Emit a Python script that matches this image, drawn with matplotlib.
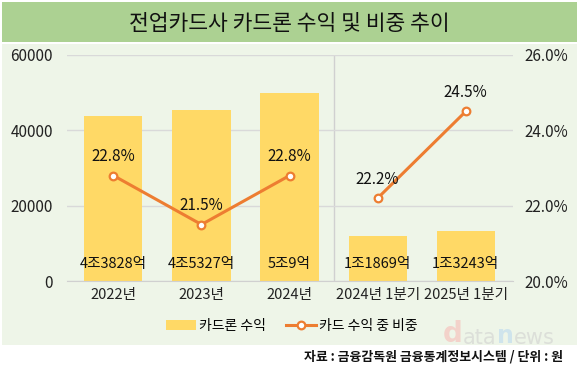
import matplotlib
matplotlib.use("Agg")
import matplotlib.pyplot as plt
from matplotlib.patches import Rectangle
from matplotlib.text import Annotation

plt.rcParams['font.family'] = ['Noto Sans CJK KR', 'DejaVu Sans']

categories = ["2022년", "2023년", "2024년", "2024년 1분기", "2025년 1분기"]
revenue = [43828, 45327, 50009, 11869, 13243]
revenue_labels = ["4조3828억", "4조5327억", "5조9억", "1조1869억", "1조3243억"]
share = [22.8, 21.5, 22.8, 22.2, 24.5]
left_ticks = [0, 20000, 40000, 60000]
right_ticks = [20.0, 22.0, 24.0, 26.0]

bar_color = "#ffd966"
line_color = "#ed7d31"
panel_color = "#eef5e8"
title_color = "#acd192"


def main():
    fig = plt.figure(figsize=(5.8, 3.66), dpi=100)
    fig.patch.set_facecolor("white")

    # title band and panel background
    fig.add_artist(Rectangle((0.004, 0.885), 0.99, 0.11, transform=fig.transFigure,
                             facecolor=title_color, edgecolor="none", zorder=-10))
    fig.add_artist(Rectangle((0.004, 0.057), 0.99, 0.823, transform=fig.transFigure,
                             facecolor=panel_color, edgecolor="none", zorder=-10))
    fig.text(0.498, 0.935, "전업카드사 카드론 수익 및 비중 추이", ha="center", va="center",
             fontsize=15.5, color="#111111")

    ax = fig.add_axes([0.115, 0.232, 0.77, 0.618])
    ax.set_facecolor("none")
    x = list(range(len(categories)))
    ax.bar(x, revenue, width=0.66, color=bar_color, zorder=2)
    for xi, lab in zip(x, revenue_labels):
        ax.text(xi, 4600, lab, ha="center", va="center", fontsize=10.5, color="#111111", zorder=5)

    ax.set_ylim(0, 60000)
    ax.set_yticks(left_ticks)
    ax.set_xlim(-0.53, 4.54)
    ax.set_xticks(x)
    ax.set_xticklabels(categories)
    ax.grid(axis="y", color="#d9d9d9", linewidth=1, zorder=0)
    ax.axvline(2.5, color="#d0d0d0", linewidth=1, zorder=1)
    for s in ["top", "right", "left"]:
        ax.spines[s].set_visible(False)
    ax.spines["bottom"].set_color("#d0d0d0")
    ax.tick_params(axis="y", length=0, labelsize=11, colors="#222222", pad=10)
    ax.tick_params(axis="x", length=0, labelsize=10.5, colors="#222222", pad=5)

    ax2 = ax.twinx()
    ax2.set_ylim(20, 26)
    ax2.set_yticks(right_ticks)
    ax2.set_yticklabels([f"{t:.1f}%" for t in right_ticks])
    for s in ["top", "right", "left", "bottom"]:
        ax2.spines[s].set_visible(False)
    ax2.tick_params(axis="y", length=0, labelsize=11, colors="#222222", pad=8)

    mk = dict(color=line_color, linewidth=2.2, marker="o", markersize=5.5,
              markerfacecolor="white", markeredgecolor=line_color, markeredgewidth=1.6, zorder=4)
    ax2.plot(x[:3], share[:3], **mk)
    ax2.plot(x[3:], share[3:], **mk)
    for xi, v in zip(x, share):
        ax2.text(xi, v + 0.5, f"{v}%", ha="center", va="center", fontsize=11,
                 color="#111111", zorder=5)

    h1 = Rectangle((0, 0), 1, 1, facecolor=bar_color, edgecolor="none")
    h2, = ax2.plot([], [], **mk)
    fig.legend([h1, h2], ["카드론 수익", "카드 수익 중 비중"], loc="center",
               bbox_to_anchor=(0.503, 0.11), ncol=2, frameon=False, fontsize=10,
               handlelength=2.2, handletextpad=0.2, columnspacing=1.4)

    # faint watermark, each piece placed right after the previous one
    last = fig.text(0.764, 0.066, "d", fontsize=20, fontweight="bold", color="#f3d2ca",
                    ha="left", va="baseline", family="DejaVu Sans")
    for piece, size, weight, col in [("ata", 15, "normal", "#dcdfd9"),
                                     ("n", 17, "bold", "#cfe4ec"),
                                     ("ews", 15, "normal", "#dcdfd9")]:
        last = fig.add_artist(Annotation(
            piece, xy=(1, 0), xycoords=last, fontsize=size, fontweight=weight, color=col,
            ha="left", va="bottom", family="DejaVu Sans"))

    fig.text(0.971, 0.025, "자료 : 금융감독원 금융통계정보시스템 / 단위 : 원", ha="right",
             va="center", fontsize=9.3, fontweight="bold", color="#111111")

    fig.savefig("out.png", dpi=100, facecolor=fig.get_facecolor())
    plt.close(fig)


if __name__ == "__main__":
    main()
